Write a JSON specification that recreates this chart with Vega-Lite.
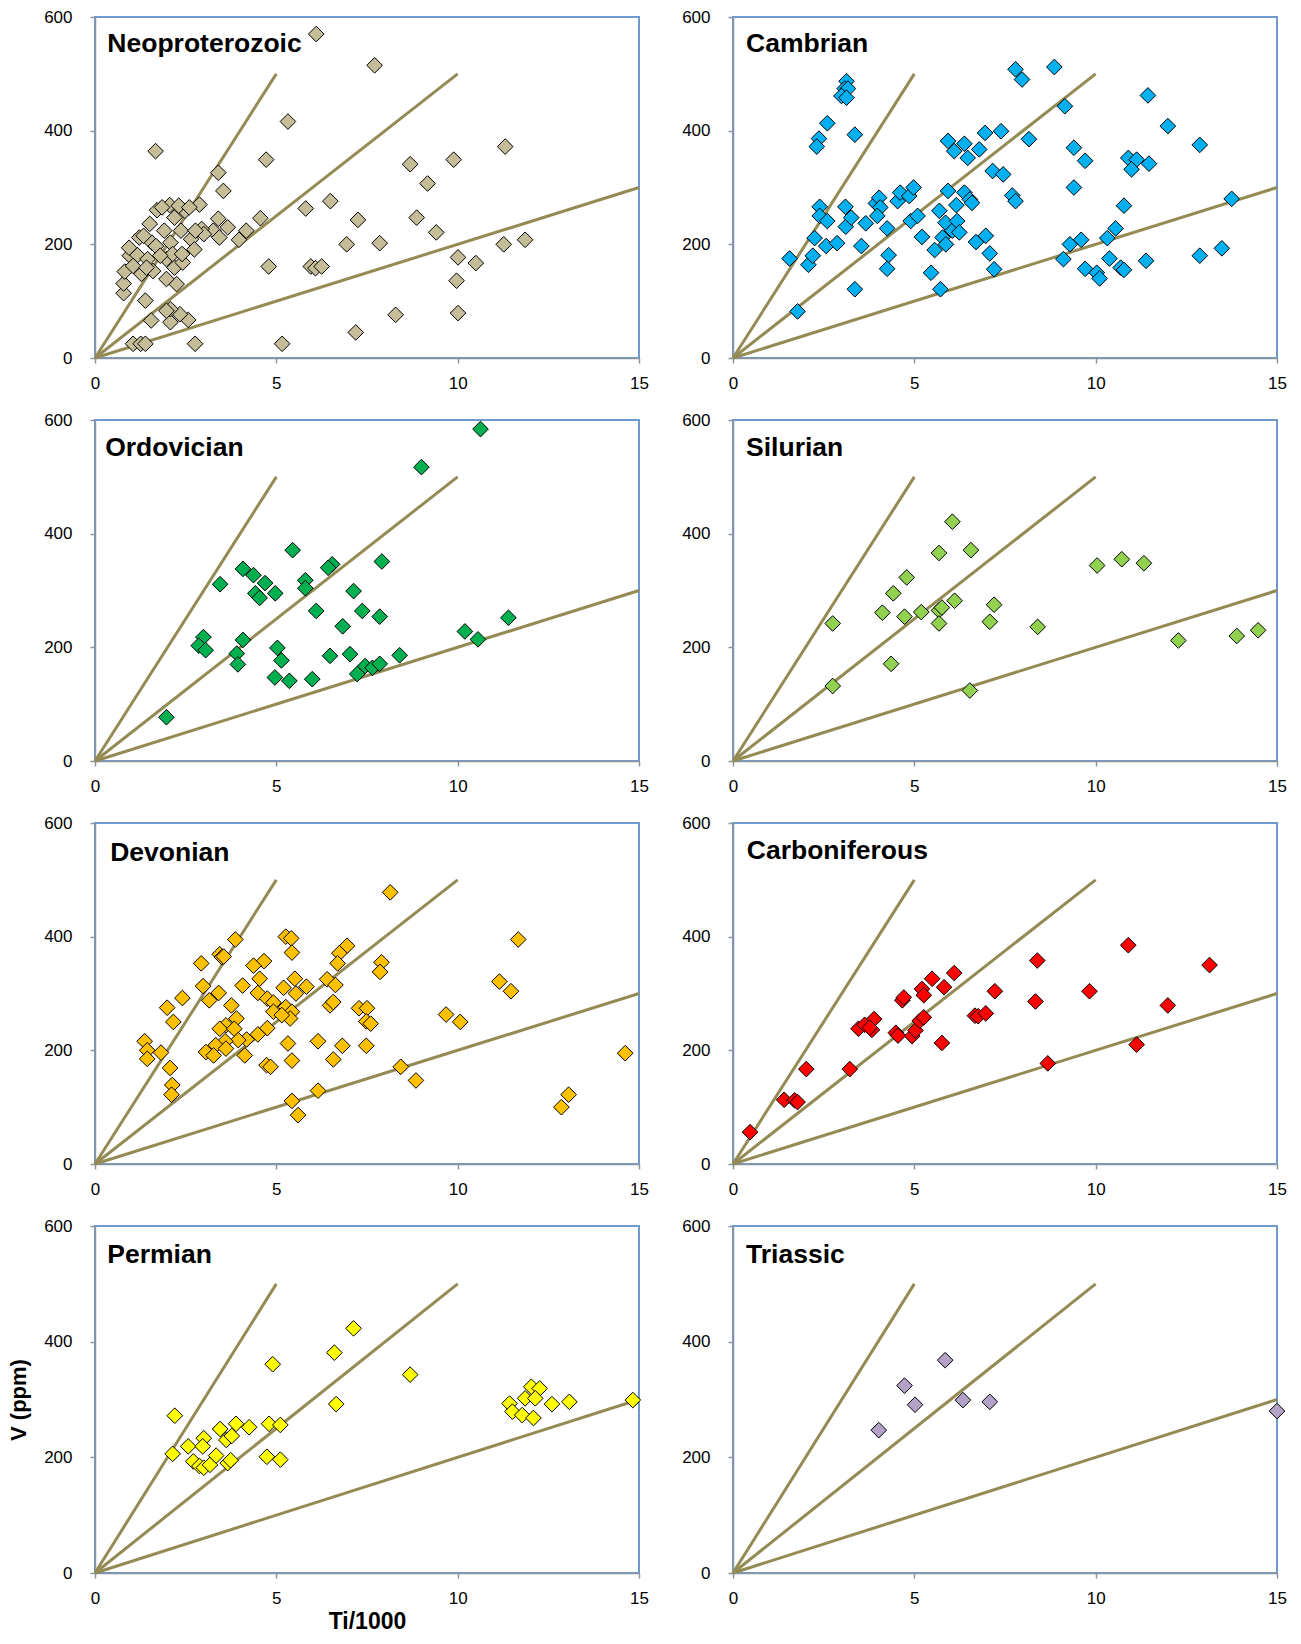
{
"$schema": "https://vega.github.io/schema/vega-lite/v6.json",
"padding": {"left": 6, "top": 7, "right": 5, "bottom": 5},
"background": "white",
"config": {
 "view": {"stroke": "#6F9AD0", "strokeWidth": 2},
 "axis": {"grid": false, "domainColor": "#8A949E", "domainWidth": 1.5, "tickColor": "#8A949E", "tickWidth": 1.5, "tickSize": 5, "labelFont": "Liberation Sans", "labelFontSize": 17, "labelColor": "#000", "labelFlush": false, "labelOverlap": false, "titleFont": "Liberation Sans", "titleFontSize": 22, "titleFontWeight": "bold", "titleColor": "#000"},
 "axisX": {"labelPadding": 12},
 "axisY": {"labelPadding": 18}
},
"datasets": {
 "lines": [{"ti": 0, "v": 0, "ti2": 5, "v2": 500}, {"ti": 0, "v": 0, "ti2": 10, "v2": 500}, {"ti": 0, "v": 0, "ti2": 15, "v2": 300}],
 "titles": [{"period": "Neoproterozoic"}, {"period": "Cambrian"}, {"period": "Ordovician"}, {"period": "Silurian"}, {"period": "Devonian"}, {"period": "Carboniferous"}, {"period": "Permian"}, {"period": "Triassic"}],
 "points": [
  {"period":"Neoproterozoic","ti":6.1,"v":570},{"period":"Neoproterozoic","ti":7.71,"v":515},{"period":"Neoproterozoic","ti":5.32,"v":416},{"period":"Neoproterozoic","ti":1.67,"v":364},{"period":"Neoproterozoic","ti":4.72,"v":349},{"period":"Neoproterozoic","ti":11.31,"v":372},{"period":"Neoproterozoic","ti":9.89,"v":349},{"period":"Neoproterozoic","ti":8.69,"v":341},{"period":"Neoproterozoic","ti":9.17,"v":307},{"period":"Neoproterozoic","ti":3.4,"v":326},{"period":"Neoproterozoic","ti":3.54,"v":294},{"period":"Neoproterozoic","ti":6.49,"v":276},{"period":"Neoproterozoic","ti":5.81,"v":263},{"period":"Neoproterozoic","ti":4.56,"v":246},{"period":"Neoproterozoic","ti":7.25,"v":243},{"period":"Neoproterozoic","ti":8.87,"v":247},{"period":"Neoproterozoic","ti":9.41,"v":221},{"period":"Neoproterozoic","ti":6.94,"v":200},{"period":"Neoproterozoic","ti":7.85,"v":202},{"period":"Neoproterozoic","ti":4.79,"v":161},{"period":"Neoproterozoic","ti":5.95,"v":161},{"period":"Neoproterozoic","ti":6.08,"v":158},{"period":"Neoproterozoic","ti":6.25,"v":161},{"period":"Neoproterozoic","ti":10.01,"v":177},{"period":"Neoproterozoic","ti":10.5,"v":167},{"period":"Neoproterozoic","ti":9.97,"v":136},{"period":"Neoproterozoic","ti":11.27,"v":200},{"period":"Neoproterozoic","ti":11.86,"v":208},{"period":"Neoproterozoic","ti":10.01,"v":79},{"period":"Neoproterozoic","ti":8.29,"v":76},{"period":"Neoproterozoic","ti":7.19,"v":45},{"period":"Neoproterozoic","ti":5.16,"v":25},{"period":"Neoproterozoic","ti":2.76,"v":25},{"period":"Neoproterozoic","ti":2.57,"v":67},{"period":"Neoproterozoic","ti":2.34,"v":77},{"period":"Neoproterozoic","ti":2.08,"v":63},{"period":"Neoproterozoic","ti":2.08,"v":86},{"period":"Neoproterozoic","ti":1.97,"v":83},{"period":"Neoproterozoic","ti":1.55,"v":66},{"period":"Neoproterozoic","ti":1.39,"v":101},{"period":"Neoproterozoic","ti":1.05,"v":25},{"period":"Neoproterozoic","ti":1.26,"v":25},{"period":"Neoproterozoic","ti":1.39,"v":25},{"period":"Neoproterozoic","ti":3.97,"v":208},{"period":"Neoproterozoic","ti":4.17,"v":224},{"period":"Neoproterozoic","ti":3.66,"v":230},{"period":"Neoproterozoic","ti":3.4,"v":245},{"period":"Neoproterozoic","ti":3.26,"v":224},{"period":"Neoproterozoic","ti":3.43,"v":212},
  {"period":"Neoproterozoic","ti":0.79,"v":114},{"period":"Neoproterozoic","ti":0.79,"v":131},{"period":"Neoproterozoic","ti":0.82,"v":152},{"period":"Neoproterozoic","ti":0.96,"v":180},{"period":"Neoproterozoic","ti":1.17,"v":181},{"period":"Neoproterozoic","ti":1.05,"v":162},{"period":"Neoproterozoic","ti":1.22,"v":212},{"period":"Neoproterozoic","ti":1.28,"v":148},{"period":"Neoproterozoic","ti":1.45,"v":174},{"period":"Neoproterozoic","ti":1.51,"v":236},{"period":"Neoproterozoic","ti":1.57,"v":203},{"period":"Neoproterozoic","ti":1.71,"v":260},{"period":"Neoproterozoic","ti":1.68,"v":197},{"period":"Neoproterozoic","ti":1.6,"v":153},{"period":"Neoproterozoic","ti":1.91,"v":224},{"period":"Neoproterozoic","ti":1.97,"v":174},{"period":"Neoproterozoic","ti":2.06,"v":269},{"period":"Neoproterozoic","ti":2.08,"v":203},{"period":"Neoproterozoic","ti":2.19,"v":247},{"period":"Neoproterozoic","ti":2.19,"v":159},{"period":"Neoproterozoic","ti":2.25,"v":130},{"period":"Neoproterozoic","ti":2.37,"v":224},{"period":"Neoproterozoic","ti":2.42,"v":168},{"period":"Neoproterozoic","ti":2.48,"v":259},{"period":"Neoproterozoic","ti":2.65,"v":209},{"period":"Neoproterozoic","ti":2.74,"v":191},{"period":"Neoproterozoic","ti":2.88,"v":270},{"period":"Neoproterozoic","ti":2.94,"v":227},{"period":"Neoproterozoic","ti":1.97,"v":139},{"period":"Neoproterozoic","ti":2.14,"v":183},{"period":"Neoproterozoic","ti":1.8,"v":180},{"period":"Neoproterozoic","ti":1.42,"v":159},{"period":"Neoproterozoic","ti":1.34,"v":215},{"period":"Neoproterozoic","ti":1.85,"v":265},{"period":"Neoproterozoic","ti":2.31,"v":268},{"period":"Neoproterozoic","ti":2.6,"v":265},{"period":"Neoproterozoic","ti":3.0,"v":218},{"period":"Neoproterozoic","ti":2.77,"v":224},{"period":"Neoproterozoic","ti":2.4,"v":183},{"period":"Neoproterozoic","ti":0.94,"v":194},
  {"period":"Cambrian","ti":3.13,"v":487},{"period":"Cambrian","ti":3.08,"v":474},{"period":"Cambrian","ti":3.17,"v":474},{"period":"Cambrian","ti":2.99,"v":461},{"period":"Cambrian","ti":3.13,"v":458},{"period":"Cambrian","ti":2.6,"v":413},{"period":"Cambrian","ti":2.37,"v":386},{"period":"Cambrian","ti":2.31,"v":372},{"period":"Cambrian","ti":3.36,"v":393},{"period":"Cambrian","ti":1.56,"v":175},{"period":"Cambrian","ti":1.78,"v":82},{"period":"Cambrian","ti":2.08,"v":164},{"period":"Cambrian","ti":2.2,"v":180},{"period":"Cambrian","ti":2.25,"v":211},{"period":"Cambrian","ti":2.39,"v":266},{"period":"Cambrian","ti":2.39,"v":250},{"period":"Cambrian","ti":2.6,"v":241},{"period":"Cambrian","ti":2.57,"v":197},{"period":"Cambrian","ti":2.87,"v":202},{"period":"Cambrian","ti":3.1,"v":266},{"period":"Cambrian","ti":3.11,"v":231},{"period":"Cambrian","ti":3.26,"v":247},{"period":"Cambrian","ti":3.54,"v":197},{"period":"Cambrian","ti":3.66,"v":237},{"period":"Cambrian","ti":3.36,"v":121},{"period":"Cambrian","ti":3.94,"v":272},{"period":"Cambrian","ti":4.03,"v":282},{"period":"Cambrian","ti":4.06,"v":265},{"period":"Cambrian","ti":3.98,"v":250},{"period":"Cambrian","ti":4.25,"v":228},{"period":"Cambrian","ti":4.29,"v":181},{"period":"Cambrian","ti":4.25,"v":157},{"period":"Cambrian","ti":4.54,"v":276},{"period":"Cambrian","ti":4.61,"v":291},{"period":"Cambrian","ti":4.86,"v":285},{"period":"Cambrian","ti":4.98,"v":300},{"period":"Cambrian","ti":4.9,"v":241},{"period":"Cambrian","ti":5.09,"v":250},{"period":"Cambrian","ti":5.21,"v":213},{"period":"Cambrian","ti":5.46,"v":150},{"period":"Cambrian","ti":5.56,"v":190},{"period":"Cambrian","ti":5.69,"v":259},{"period":"Cambrian","ti":5.72,"v":121},{"period":"Cambrian","ti":5.78,"v":212},{"period":"Cambrian","ti":5.86,"v":238},{"period":"Cambrian","ti":5.93,"v":294},{"period":"Cambrian","ti":5.93,"v":382},{"period":"Cambrian","ti":6.1,"v":364},{"period":"Cambrian","ti":6.38,"v":377},{"period":"Cambrian","ti":6.47,"v":352},{"period":"Cambrian","ti":6.79,"v":367},{"period":"Cambrian","ti":6.95,"v":396},{"period":"Cambrian","ti":7.39,"v":399},{"period":"Cambrian","ti":6.16,"v":269},{"period":"Cambrian","ti":6.38,"v":291},{"period":"Cambrian","ti":6.53,"v":279},{"period":"Cambrian","ti":6.59,"v":273},{"period":"Cambrian","ti":6.05,"v":224},{"period":"Cambrian","ti":6.18,"v":241},{"period":"Cambrian","ti":6.24,"v":221},{"period":"Cambrian","ti":5.87,"v":200},{"period":"Cambrian","ti":6.7,"v":204},{"period":"Cambrian","ti":6.97,"v":215},{"period":"Cambrian","ti":7.08,"v":184},{"period":"Cambrian","ti":7.2,"v":156},{"period":"Cambrian","ti":7.16,"v":329},{"period":"Cambrian","ti":7.45,"v":323},{"period":"Cambrian","ti":7.7,"v":286},{"period":"Cambrian","ti":7.79,"v":276},{"period":"Cambrian","ti":7.79,"v":508},{"period":"Cambrian","ti":7.97,"v":490},{"period":"Cambrian","ti":8.16,"v":385},{"period":"Cambrian","ti":8.86,"v":512},{"period":"Cambrian","ti":9.15,"v":443},{"period":"Cambrian","ti":9.4,"v":370},{"period":"Cambrian","ti":9.71,"v":347},{"period":"Cambrian","ti":9.4,"v":300},{"period":"Cambrian","ti":9.29,"v":200},{"period":"Cambrian","ti":9.6,"v":208},{"period":"Cambrian","ti":9.11,"v":174},{"period":"Cambrian","ti":9.71,"v":157},{"period":"Cambrian","ti":10.03,"v":150},{"period":"Cambrian","ti":10.11,"v":140},{"period":"Cambrian","ti":10.32,"v":211},{"period":"Cambrian","ti":10.55,"v":228},{"period":"Cambrian","ti":10.38,"v":175},{"period":"Cambrian","ti":10.69,"v":159},{"period":"Cambrian","ti":10.78,"v":155},{"period":"Cambrian","ti":10.78,"v":268},{"period":"Cambrian","ti":10.9,"v":352},{"period":"Cambrian","ti":11.13,"v":349},{"period":"Cambrian","ti":10.99,"v":332},{"period":"Cambrian","ti":11.47,"v":342},{"period":"Cambrian","ti":11.44,"v":462},{"period":"Cambrian","ti":11.39,"v":171},{"period":"Cambrian","ti":11.99,"v":408},{"period":"Cambrian","ti":12.87,"v":375},{"period":"Cambrian","ti":12.87,"v":180},{"period":"Cambrian","ti":13.48,"v":193},{"period":"Cambrian","ti":13.75,"v":280},
  {"period":"Ordovician","ti":10.63,"v":584},{"period":"Ordovician","ti":9.0,"v":517},{"period":"Ordovician","ti":5.45,"v":371},{"period":"Ordovician","ti":7.91,"v":351},{"period":"Ordovician","ti":6.54,"v":346},{"period":"Ordovician","ti":6.43,"v":340},{"period":"Ordovician","ti":4.08,"v":338},{"period":"Ordovician","ti":4.37,"v":327},{"period":"Ordovician","ti":3.45,"v":311},{"period":"Ordovician","ti":4.69,"v":313},{"period":"Ordovician","ti":5.8,"v":318},{"period":"Ordovician","ti":5.8,"v":304},{"period":"Ordovician","ti":4.42,"v":295},{"period":"Ordovician","ti":4.54,"v":287},{"period":"Ordovician","ti":4.97,"v":295},{"period":"Ordovician","ti":7.13,"v":299},{"period":"Ordovician","ti":6.1,"v":264},{"period":"Ordovician","ti":7.37,"v":264},{"period":"Ordovician","ti":6.83,"v":237},{"period":"Ordovician","ti":7.85,"v":254},{"period":"Ordovician","ti":2.99,"v":218},{"period":"Ordovician","ti":2.86,"v":203},{"period":"Ordovician","ti":3.05,"v":195},{"period":"Ordovician","ti":4.08,"v":213},{"period":"Ordovician","ti":3.91,"v":189},{"period":"Ordovician","ti":3.94,"v":170},{"period":"Ordovician","ti":5.03,"v":199},{"period":"Ordovician","ti":5.14,"v":177},{"period":"Ordovician","ti":4.96,"v":147},{"period":"Ordovician","ti":5.36,"v":141},{"period":"Ordovician","ti":5.99,"v":144},{"period":"Ordovician","ti":6.48,"v":185},{"period":"Ordovician","ti":7.03,"v":188},{"period":"Ordovician","ti":7.23,"v":153},{"period":"Ordovician","ti":7.45,"v":167},{"period":"Ordovician","ti":7.65,"v":164},{"period":"Ordovician","ti":7.85,"v":171},{"period":"Ordovician","ti":8.4,"v":186},{"period":"Ordovician","ti":10.2,"v":228},{"period":"Ordovician","ti":10.56,"v":214},{"period":"Ordovician","ti":11.4,"v":252},{"period":"Ordovician","ti":1.97,"v":77},
  {"period":"Silurian","ti":6.05,"v":421},{"period":"Silurian","ti":5.68,"v":366},{"period":"Silurian","ti":6.56,"v":371},{"period":"Silurian","ti":4.79,"v":323},{"period":"Silurian","ti":4.42,"v":295},{"period":"Silurian","ti":10.04,"v":344},{"period":"Silurian","ti":10.72,"v":355},{"period":"Silurian","ti":11.33,"v":348},{"period":"Silurian","ti":2.75,"v":242},{"period":"Silurian","ti":4.12,"v":261},{"period":"Silurian","ti":4.73,"v":254},{"period":"Silurian","ti":5.19,"v":262},{"period":"Silurian","ti":5.68,"v":265},{"period":"Silurian","ti":5.76,"v":270},{"period":"Silurian","ti":6.11,"v":282},{"period":"Silurian","ti":5.68,"v":242},{"period":"Silurian","ti":7.08,"v":245},{"period":"Silurian","ti":7.2,"v":275},{"period":"Silurian","ti":8.4,"v":236},{"period":"Silurian","ti":12.28,"v":212},{"period":"Silurian","ti":13.89,"v":220},{"period":"Silurian","ti":14.48,"v":230},{"period":"Silurian","ti":4.36,"v":171},{"period":"Silurian","ti":2.75,"v":132},{"period":"Silurian","ti":6.53,"v":124},
  {"period":"Devonian","ti":8.14,"v":478},{"period":"Devonian","ti":11.67,"v":395},{"period":"Devonian","ti":3.87,"v":395},{"period":"Devonian","ti":5.26,"v":400},{"period":"Devonian","ti":5.41,"v":397},{"period":"Devonian","ti":5.43,"v":372},{"period":"Devonian","ti":6.95,"v":384},{"period":"Devonian","ti":6.74,"v":371},{"period":"Devonian","ti":6.69,"v":353},{"period":"Devonian","ti":7.9,"v":355},{"period":"Devonian","ti":7.86,"v":338},{"period":"Devonian","ti":3.44,"v":369},{"period":"Devonian","ti":3.5,"v":364},{"period":"Devonian","ti":3.55,"v":365},{"period":"Devonian","ti":2.93,"v":353},{"period":"Devonian","ti":4.66,"v":357},{"period":"Devonian","ti":4.37,"v":349},{"period":"Devonian","ti":4.54,"v":326},{"period":"Devonian","ti":4.07,"v":314},{"period":"Devonian","ti":2.98,"v":313},{"period":"Devonian","ti":3.15,"v":288},{"period":"Devonian","ti":3.41,"v":301},{"period":"Devonian","ti":4.49,"v":301},{"period":"Devonian","ti":4.75,"v":291},{"period":"Devonian","ti":5.51,"v":326},{"period":"Devonian","ti":5.83,"v":312},{"period":"Devonian","ti":5.2,"v":310},{"period":"Devonian","ti":5.54,"v":300},{"period":"Devonian","ti":6.4,"v":325},{"period":"Devonian","ti":6.63,"v":315},{"period":"Devonian","ti":6.48,"v":279},{"period":"Devonian","ti":6.57,"v":285},{"period":"Devonian","ti":4.92,"v":284},{"period":"Devonian","ti":5.26,"v":276},{"period":"Devonian","ti":4.92,"v":268},{"period":"Devonian","ti":5.43,"v":268},{"period":"Devonian","ti":5.38,"v":256},{"period":"Devonian","ti":5.15,"v":262},{"period":"Devonian","ti":2.41,"v":292},{"period":"Devonian","ti":1.99,"v":275},{"period":"Devonian","ti":2.16,"v":250},{"period":"Devonian","ti":3.76,"v":279},{"period":"Devonian","ti":3.9,"v":256},{"period":"Devonian","ti":3.61,"v":244},{"period":"Devonian","ti":3.44,"v":238},{"period":"Devonian","ti":3.84,"v":238},{"period":"Devonian","ti":4.75,"v":239},{"period":"Devonian","ti":4.49,"v":228},{"period":"Devonian","ti":4.18,"v":219},{"period":"Devonian","ti":3.95,"v":218},{"period":"Devonian","ti":3.59,"v":216},{"period":"Devonian","ti":3.33,"v":209},{"period":"Devonian","ti":3.61,"v":203},{"period":"Devonian","ti":3.06,"v":197},{"period":"Devonian","ti":3.27,"v":191},{"period":"Devonian","ti":4.13,"v":191},{"period":"Devonian","ti":1.37,"v":216},{"period":"Devonian","ti":1.44,"v":200},{"period":"Devonian","ti":1.44,"v":185},{"period":"Devonian","ti":1.82,"v":196},{"period":"Devonian","ti":2.07,"v":169},{"period":"Devonian","ti":2.13,"v":139},{"period":"Devonian","ti":2.11,"v":122},{"period":"Devonian","ti":4.73,"v":174},{"period":"Devonian","ti":4.84,"v":171},{"period":"Devonian","ti":5.32,"v":212},{"period":"Devonian","ti":5.43,"v":182},{"period":"Devonian","ti":6.15,"v":216},{"period":"Devonian","ti":6.82,"v":208},{"period":"Devonian","ti":6.57,"v":184},{"period":"Devonian","ti":7.28,"v":274},{"period":"Devonian","ti":7.5,"v":274},{"period":"Devonian","ti":7.48,"v":251},{"period":"Devonian","ti":7.6,"v":247},{"period":"Devonian","ti":7.48,"v":208},{"period":"Devonian","ti":8.43,"v":171},{"period":"Devonian","ti":8.85,"v":147},{"period":"Devonian","ti":6.15,"v":129},{"period":"Devonian","ti":5.43,"v":111},{"period":"Devonian","ti":5.6,"v":86},{"period":"Devonian","ti":9.68,"v":263},{"period":"Devonian","ti":10.07,"v":250},{"period":"Devonian","ti":11.15,"v":321},{"period":"Devonian","ti":11.47,"v":304},{"period":"Devonian","ti":13.06,"v":122},{"period":"Devonian","ti":12.86,"v":100},{"period":"Devonian","ti":14.62,"v":195},
  {"period":"Carboniferous","ti":0.47,"v":56},{"period":"Carboniferous","ti":1.41,"v":113},{"period":"Carboniferous","ti":1.7,"v":112},{"period":"Carboniferous","ti":1.78,"v":109},{"period":"Carboniferous","ti":2.02,"v":167},{"period":"Carboniferous","ti":3.22,"v":167},{"period":"Carboniferous","ti":3.46,"v":238},{"period":"Carboniferous","ti":3.63,"v":245},{"period":"Carboniferous","ti":3.83,"v":236},{"period":"Carboniferous","ti":3.89,"v":255},{"period":"Carboniferous","ti":3.77,"v":240},{"period":"Carboniferous","ti":4.49,"v":231},{"period":"Carboniferous","ti":4.55,"v":226},{"period":"Carboniferous","ti":4.67,"v":288},{"period":"Carboniferous","ti":4.71,"v":293},{"period":"Carboniferous","ti":4.94,"v":225},{"period":"Carboniferous","ti":5.03,"v":235},{"period":"Carboniferous","ti":5.15,"v":252},{"period":"Carboniferous","ti":5.26,"v":258},{"period":"Carboniferous","ti":5.21,"v":308},{"period":"Carboniferous","ti":5.26,"v":297},{"period":"Carboniferous","ti":5.49,"v":326},{"period":"Carboniferous","ti":5.82,"v":311},{"period":"Carboniferous","ti":6.1,"v":336},{"period":"Carboniferous","ti":5.76,"v":213},{"period":"Carboniferous","ti":6.67,"v":261},{"period":"Carboniferous","ti":6.76,"v":260},{"period":"Carboniferous","ti":6.97,"v":265},{"period":"Carboniferous","ti":7.22,"v":304},{"period":"Carboniferous","ti":8.34,"v":286},{"period":"Carboniferous","ti":8.39,"v":358},{"period":"Carboniferous","ti":8.68,"v":177},{"period":"Carboniferous","ti":9.83,"v":304},{"period":"Carboniferous","ti":10.9,"v":385},{"period":"Carboniferous","ti":11.13,"v":210},{"period":"Carboniferous","ti":11.99,"v":279},{"period":"Carboniferous","ti":13.14,"v":350},
  {"period":"Permian","ti":7.13,"v":423},{"period":"Permian","ti":6.6,"v":381},{"period":"Permian","ti":4.9,"v":361},{"period":"Permian","ti":8.69,"v":343},{"period":"Permian","ti":6.65,"v":292},{"period":"Permian","ti":2.2,"v":272},{"period":"Permian","ti":2.14,"v":206},{"period":"Permian","ti":2.57,"v":219},{"period":"Permian","ti":2.71,"v":193},{"period":"Permian","ti":3.0,"v":233},{"period":"Permian","ti":2.97,"v":219},{"period":"Permian","ti":2.88,"v":185},{"period":"Permian","ti":3.0,"v":182},{"period":"Permian","ti":3.17,"v":187},{"period":"Permian","ti":3.34,"v":203},{"period":"Permian","ti":3.45,"v":249},{"period":"Permian","ti":3.62,"v":230},{"period":"Permian","ti":3.77,"v":237},{"period":"Permian","ti":3.89,"v":258},{"period":"Permian","ti":3.66,"v":190},{"period":"Permian","ti":3.74,"v":195},{"period":"Permian","ti":4.25,"v":252},{"period":"Permian","ti":4.8,"v":258},{"period":"Permian","ti":5.11,"v":256},{"period":"Permian","ti":4.74,"v":201},{"period":"Permian","ti":5.11,"v":196},{"period":"Permian","ti":11.43,"v":293},{"period":"Permian","ti":11.51,"v":279},{"period":"Permian","ti":11.78,"v":273},{"period":"Permian","ti":11.86,"v":302},{"period":"Permian","ti":12.03,"v":322},{"period":"Permian","ti":12.26,"v":319},{"period":"Permian","ti":12.14,"v":302},{"period":"Permian","ti":12.09,"v":268},{"period":"Permian","ti":12.6,"v":292},{"period":"Permian","ti":13.08,"v":296},{"period":"Permian","ti":14.83,"v":299},
  {"period":"Triassic","ti":5.85,"v":368},{"period":"Triassic","ti":4.73,"v":324},{"period":"Triassic","ti":5.02,"v":291},{"period":"Triassic","ti":6.34,"v":299},{"period":"Triassic","ti":7.08,"v":296},{"period":"Triassic","ti":4.02,"v":247},{"period":"Triassic","ti":15.0,"v":280}
 ]
},
"columns": 2,
"bounds": "flush",
"align": "each",
"spacing": {"row": 62, "column": 94},
"concat": [
 {"width": 544, "height": 341, "layer": [
  {"data": {"name": "lines"}, "mark": {"type": "rule", "color": "#948A54", "strokeWidth": 3}, "encoding": {"x": {"field": "ti", "type": "quantitative", "scale": {"domain": [0, 15], "nice": false}, "axis": {"values": [0, 5, 10, 15], "title": null}}, "y": {"field": "v", "type": "quantitative", "scale": {"domain": [0, 600], "nice": false}, "axis": {"values": [0, 200, 400, 600], "title": null}}, "x2": {"field": "ti2"}, "y2": {"field": "v2"}}},
  {"data": {"name": "points"}, "transform": [{"filter": "datum.period === 'Neoproterozoic'"}], "mark": {"type": "point", "shape": "diamond", "filled": true, "fill": "#C4BD97", "stroke": "#000000", "strokeWidth": 1, "size": 245, "opacity": 1}, "encoding": {"x": {"field": "ti", "type": "quantitative"}, "y": {"field": "v", "type": "quantitative"}}},
  {"data": {"name": "titles"}, "transform": [{"filter": "datum.period === 'Neoproterozoic'"}], "mark": {"type": "text", "align": "left", "baseline": "middle", "font": "Liberation Sans", "fontWeight": "bold", "fontSize": 26.5, "color": "#000000"}, "encoding": {"x": {"datum": 0.34, "type": "quantitative"}, "y": {"datum": 553, "type": "quantitative"}, "text": {"field": "period"}}}
 ]},
 {"width": 544, "height": 341, "layer": [
  {"data": {"name": "lines"}, "mark": {"type": "rule", "color": "#948A54", "strokeWidth": 3}, "encoding": {"x": {"field": "ti", "type": "quantitative", "scale": {"domain": [0, 15], "nice": false}, "axis": {"values": [0, 5, 10, 15], "title": null}}, "y": {"field": "v", "type": "quantitative", "scale": {"domain": [0, 600], "nice": false}, "axis": {"values": [0, 200, 400, 600], "title": null}}, "x2": {"field": "ti2"}, "y2": {"field": "v2"}}},
  {"data": {"name": "points"}, "transform": [{"filter": "datum.period === 'Cambrian'"}], "mark": {"type": "point", "shape": "diamond", "filled": true, "fill": "#00B0F0", "stroke": "#000000", "strokeWidth": 1, "size": 245, "opacity": 1}, "encoding": {"x": {"field": "ti", "type": "quantitative"}, "y": {"field": "v", "type": "quantitative"}}},
  {"data": {"name": "titles"}, "transform": [{"filter": "datum.period === 'Cambrian'"}], "mark": {"type": "text", "align": "left", "baseline": "middle", "font": "Liberation Sans", "fontWeight": "bold", "fontSize": 26.5, "color": "#000000"}, "encoding": {"x": {"datum": 0.36, "type": "quantitative"}, "y": {"datum": 553, "type": "quantitative"}, "text": {"field": "period"}}}
 ]},
 {"width": 544, "height": 341, "layer": [
  {"data": {"name": "lines"}, "mark": {"type": "rule", "color": "#948A54", "strokeWidth": 3}, "encoding": {"x": {"field": "ti", "type": "quantitative", "scale": {"domain": [0, 15], "nice": false}, "axis": {"values": [0, 5, 10, 15], "title": null}}, "y": {"field": "v", "type": "quantitative", "scale": {"domain": [0, 600], "nice": false}, "axis": {"values": [0, 200, 400, 600], "title": null}}, "x2": {"field": "ti2"}, "y2": {"field": "v2"}}},
  {"data": {"name": "points"}, "transform": [{"filter": "datum.period === 'Ordovician'"}], "mark": {"type": "point", "shape": "diamond", "filled": true, "fill": "#00B050", "stroke": "#000000", "strokeWidth": 1, "size": 245, "opacity": 1}, "encoding": {"x": {"field": "ti", "type": "quantitative"}, "y": {"field": "v", "type": "quantitative"}}},
  {"data": {"name": "titles"}, "transform": [{"filter": "datum.period === 'Ordovician'"}], "mark": {"type": "text", "align": "left", "baseline": "middle", "font": "Liberation Sans", "fontWeight": "bold", "fontSize": 26.5, "color": "#000000"}, "encoding": {"x": {"datum": 0.28, "type": "quantitative"}, "y": {"datum": 550, "type": "quantitative"}, "text": {"field": "period"}}}
 ]},
 {"width": 544, "height": 341, "layer": [
  {"data": {"name": "lines"}, "mark": {"type": "rule", "color": "#948A54", "strokeWidth": 3}, "encoding": {"x": {"field": "ti", "type": "quantitative", "scale": {"domain": [0, 15], "nice": false}, "axis": {"values": [0, 5, 10, 15], "title": null}}, "y": {"field": "v", "type": "quantitative", "scale": {"domain": [0, 600], "nice": false}, "axis": {"values": [0, 200, 400, 600], "title": null}}, "x2": {"field": "ti2"}, "y2": {"field": "v2"}}},
  {"data": {"name": "points"}, "transform": [{"filter": "datum.period === 'Silurian'"}], "mark": {"type": "point", "shape": "diamond", "filled": true, "fill": "#92D050", "stroke": "#000000", "strokeWidth": 1, "size": 245, "opacity": 1}, "encoding": {"x": {"field": "ti", "type": "quantitative"}, "y": {"field": "v", "type": "quantitative"}}},
  {"data": {"name": "titles"}, "transform": [{"filter": "datum.period === 'Silurian'"}], "mark": {"type": "text", "align": "left", "baseline": "middle", "font": "Liberation Sans", "fontWeight": "bold", "fontSize": 26.5, "color": "#000000"}, "encoding": {"x": {"datum": 0.36, "type": "quantitative"}, "y": {"datum": 550, "type": "quantitative"}, "text": {"field": "period"}}}
 ]},
 {"width": 544, "height": 341, "layer": [
  {"data": {"name": "lines"}, "mark": {"type": "rule", "color": "#948A54", "strokeWidth": 3}, "encoding": {"x": {"field": "ti", "type": "quantitative", "scale": {"domain": [0, 15], "nice": false}, "axis": {"values": [0, 5, 10, 15], "title": null}}, "y": {"field": "v", "type": "quantitative", "scale": {"domain": [0, 600], "nice": false}, "axis": {"values": [0, 200, 400, 600], "title": null}}, "x2": {"field": "ti2"}, "y2": {"field": "v2"}}},
  {"data": {"name": "points"}, "transform": [{"filter": "datum.period === 'Devonian'"}], "mark": {"type": "point", "shape": "diamond", "filled": true, "fill": "#FFC000", "stroke": "#000000", "strokeWidth": 1, "size": 245, "opacity": 1}, "encoding": {"x": {"field": "ti", "type": "quantitative"}, "y": {"field": "v", "type": "quantitative"}}},
  {"data": {"name": "titles"}, "transform": [{"filter": "datum.period === 'Devonian'"}], "mark": {"type": "text", "align": "left", "baseline": "middle", "font": "Liberation Sans", "fontWeight": "bold", "fontSize": 26.5, "color": "#000000"}, "encoding": {"x": {"datum": 0.42, "type": "quantitative"}, "y": {"datum": 548, "type": "quantitative"}, "text": {"field": "period"}}}
 ]},
 {"width": 544, "height": 341, "layer": [
  {"data": {"name": "lines"}, "mark": {"type": "rule", "color": "#948A54", "strokeWidth": 3}, "encoding": {"x": {"field": "ti", "type": "quantitative", "scale": {"domain": [0, 15], "nice": false}, "axis": {"values": [0, 5, 10, 15], "title": null}}, "y": {"field": "v", "type": "quantitative", "scale": {"domain": [0, 600], "nice": false}, "axis": {"values": [0, 200, 400, 600], "title": null}}, "x2": {"field": "ti2"}, "y2": {"field": "v2"}}},
  {"data": {"name": "points"}, "transform": [{"filter": "datum.period === 'Carboniferous'"}], "mark": {"type": "point", "shape": "diamond", "filled": true, "fill": "#FF0000", "stroke": "#000000", "strokeWidth": 1, "size": 245, "opacity": 1}, "encoding": {"x": {"field": "ti", "type": "quantitative"}, "y": {"field": "v", "type": "quantitative"}}},
  {"data": {"name": "titles"}, "transform": [{"filter": "datum.period === 'Carboniferous'"}], "mark": {"type": "text", "align": "left", "baseline": "middle", "font": "Liberation Sans", "fontWeight": "bold", "fontSize": 26.5, "color": "#000000"}, "encoding": {"x": {"datum": 0.38, "type": "quantitative"}, "y": {"datum": 551, "type": "quantitative"}, "text": {"field": "period"}}}
 ]},
 {"width": 544, "height": 347, "layer": [
  {"data": {"name": "lines"}, "mark": {"type": "rule", "color": "#948A54", "strokeWidth": 3}, "encoding": {"x": {"field": "ti", "type": "quantitative", "scale": {"domain": [0, 15], "nice": false}, "axis": {"values": [0, 5, 10, 15], "title": "Ti/1000", "titleFontSize": 23, "titlePadding": 4}}, "y": {"field": "v", "type": "quantitative", "scale": {"domain": [0, 600], "nice": false}, "axis": {"values": [0, 200, 400, 600], "title": "V (ppm)", "titlePadding": 13}}, "x2": {"field": "ti2"}, "y2": {"field": "v2"}}},
  {"data": {"name": "points"}, "transform": [{"filter": "datum.period === 'Permian'"}], "mark": {"type": "point", "shape": "diamond", "filled": true, "fill": "#FFFF00", "stroke": "#000000", "strokeWidth": 1, "size": 245, "opacity": 1}, "encoding": {"x": {"field": "ti", "type": "quantitative"}, "y": {"field": "v", "type": "quantitative"}}},
  {"data": {"name": "titles"}, "transform": [{"filter": "datum.period === 'Permian'"}], "mark": {"type": "text", "align": "left", "baseline": "middle", "font": "Liberation Sans", "fontWeight": "bold", "fontSize": 26.5, "color": "#000000"}, "encoding": {"x": {"datum": 0.34, "type": "quantitative"}, "y": {"datum": 550, "type": "quantitative"}, "text": {"field": "period"}}}
 ]},
 {"width": 544, "height": 347, "layer": [
  {"data": {"name": "lines"}, "mark": {"type": "rule", "color": "#948A54", "strokeWidth": 3}, "encoding": {"x": {"field": "ti", "type": "quantitative", "scale": {"domain": [0, 15], "nice": false}, "axis": {"values": [0, 5, 10, 15], "title": null}}, "y": {"field": "v", "type": "quantitative", "scale": {"domain": [0, 600], "nice": false}, "axis": {"values": [0, 200, 400, 600], "title": null}}, "x2": {"field": "ti2"}, "y2": {"field": "v2"}}},
  {"data": {"name": "points"}, "transform": [{"filter": "datum.period === 'Triassic'"}], "mark": {"type": "point", "shape": "diamond", "filled": true, "fill": "#B3A2C7", "stroke": "#000000", "strokeWidth": 1, "size": 245, "opacity": 1}, "encoding": {"x": {"field": "ti", "type": "quantitative"}, "y": {"field": "v", "type": "quantitative"}}},
  {"data": {"name": "titles"}, "transform": [{"filter": "datum.period === 'Triassic'"}], "mark": {"type": "text", "align": "left", "baseline": "middle", "font": "Liberation Sans", "fontWeight": "bold", "fontSize": 26.5, "color": "#000000"}, "encoding": {"x": {"datum": 0.36, "type": "quantitative"}, "y": {"datum": 550, "type": "quantitative"}, "text": {"field": "period"}}}
 ]}
]
}
